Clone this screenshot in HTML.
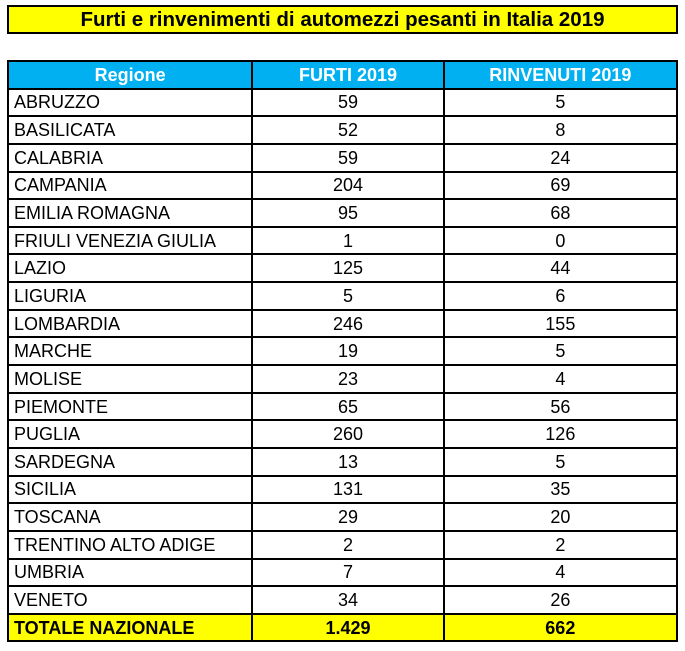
<!DOCTYPE html>
<html><head><style>
body{margin:0;width:685px;height:651px;background:#fff;position:relative;font-family:"Liberation Sans",Arial,sans-serif;}
.title{position:absolute;left:7px;top:5px;width:667px;height:25px;border:2px solid #000;background:#ffff00;font-weight:bold;font-size:20.5px;text-align:center;line-height:26px;}
table{position:absolute;left:7px;top:60px;border-collapse:collapse;width:671px;}
td,th{border:2px solid #000;height:25.65px;padding:0 5px;font-size:18px;line-height:24px;}
th{background:#00b0f0;color:#fff;font-weight:bold;text-align:center;}
td.c{text-align:center;}
tr.t td{background:#ffff00;font-weight:bold;}
</style></head><body>
<div class="title">Furti e rinvenimenti di automezzi pesanti in Italia 2019</div>
<table>
<colgroup><col style="width:245px"><col style="width:192px"><col style="width:234px"></colgroup>
<tr><th>Regione</th><th>FURTI 2019</th><th>RINVENUTI 2019</th></tr>
<tr><td>ABRUZZO</td><td class="c">59</td><td class="c">5</td></tr>
<tr><td>BASILICATA</td><td class="c">52</td><td class="c">8</td></tr>
<tr><td>CALABRIA</td><td class="c">59</td><td class="c">24</td></tr>
<tr><td>CAMPANIA</td><td class="c">204</td><td class="c">69</td></tr>
<tr><td>EMILIA ROMAGNA</td><td class="c">95</td><td class="c">68</td></tr>
<tr><td>FRIULI VENEZIA GIULIA</td><td class="c">1</td><td class="c">0</td></tr>
<tr><td>LAZIO</td><td class="c">125</td><td class="c">44</td></tr>
<tr><td>LIGURIA</td><td class="c">5</td><td class="c">6</td></tr>
<tr><td>LOMBARDIA</td><td class="c">246</td><td class="c">155</td></tr>
<tr><td>MARCHE</td><td class="c">19</td><td class="c">5</td></tr>
<tr><td>MOLISE</td><td class="c">23</td><td class="c">4</td></tr>
<tr><td>PIEMONTE</td><td class="c">65</td><td class="c">56</td></tr>
<tr><td>PUGLIA</td><td class="c">260</td><td class="c">126</td></tr>
<tr><td>SARDEGNA</td><td class="c">13</td><td class="c">5</td></tr>
<tr><td>SICILIA</td><td class="c">131</td><td class="c">35</td></tr>
<tr><td>TOSCANA</td><td class="c">29</td><td class="c">20</td></tr>
<tr><td>TRENTINO ALTO ADIGE</td><td class="c">2</td><td class="c">2</td></tr>
<tr><td>UMBRIA</td><td class="c">7</td><td class="c">4</td></tr>
<tr><td>VENETO</td><td class="c">34</td><td class="c">26</td></tr>
<tr class="t"><td>TOTALE NAZIONALE</td><td class="c">1.429</td><td class="c">662</td></tr>
</table>
</body></html>
